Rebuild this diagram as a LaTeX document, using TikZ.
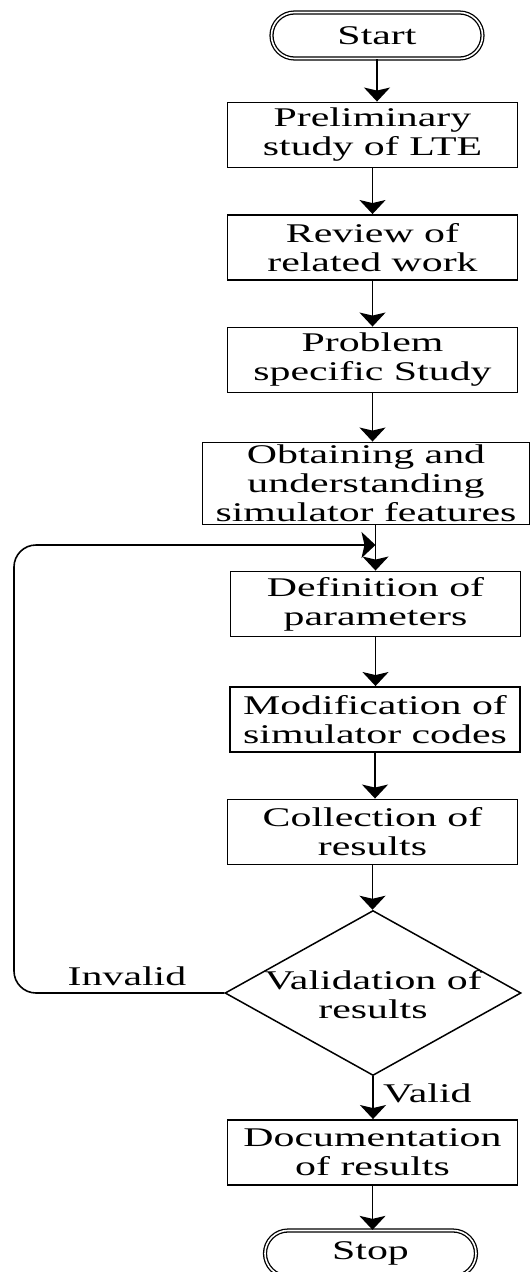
\documentclass[tikz,border=0pt]{standalone}
\usepackage{fontspec}
\setmainfont{Liberation Serif}[FakeStretch=1.55]
\usetikzlibrary{shapes.misc,shapes.geometric,arrows.meta}
\tikzset{
  base/.style={font=\fontsize{27}{29}\selectfont, align=center, inner sep=0pt},
  proc/.style={base, draw, line width=1.9pt, rectangle, minimum width=290pt, minimum height=65pt},
  term/.style={base, rounded rectangle, draw, double, line width=1.3pt, double distance=1.6pt,
               minimum width=211pt, minimum height=46pt},
  decision/.style={diamond, draw, line width=1.5pt, inner sep=0pt, minimum width=296pt, minimum height=165pt},
  flow/.style={line width=1.8pt, -{Stealth[length=14pt,width=26pt,inset=3pt]}},
  loop/.style={line width=1.6pt, -{Stealth[length=14pt,width=26pt,inset=3pt]}, rounded corners=22pt},
  lbl/.style={base}
}
\begin{document}
\begin{tikzpicture}[x=1pt,y=-1pt]
\useasboundingbox (0,0) rectangle (532,1272);
\clip (0,0) rectangle (532,1272);

% process chain
\node[term] (start) at (377,35.5) {Start};
\node[proc] (b1) at (372.5,135) {Preliminary\\study of LTE};
\node[proc] (b2) at (372.5,247.5) {Review of\\related work};
\node[proc] (b3) at (372.5,360) {Problem\\specific Study};
\node[proc, minimum width=327pt, minimum height=82pt] (b4) at (366,483.5) {Obtaining and\\understanding\\simulator features};
\node[proc] (b5) at (375.5,604) {Definition of\\parameters};
\node[proc] (b6) at (375,719.5) {Modification of\\simulator codes};
\node[proc] (b7) at (372.5,832) {Collection of\\results};
\node[decision] (dec) at (373,993) {};
\node[base] (dect) at (373,995) {Validation of\\results};
\node[proc] (b8) at (372.5,1152.5) {Documentation\\of results};
\node[term] (stop) at (370.5,1253.5) {Stop};

% connectors
\draw[flow] (start.south) -- (start.south |- b1.north);
\draw[flow] (b1.south) -- (b1.south |- b2.north);
\draw[flow] (b2.south) -- (b2.south |- b3.north);
\draw[flow] (b3.south) -- (b3.south |- b4.north);
\draw[flow] (b5.north |- b4.south) -- (b5.north);
\draw[flow] (b5.south) -- (b5.south |- b6.north);
\draw[flow] (b6.south) -- (b6.south |- b7.north);
\draw[flow] (b7.south) -- (b7.south |- dec.north);
\draw[flow] (dec.south) -- (dec.south |- b8.north);
\draw[flow] (b8.south) -- (b8.south |- stop.north);

% feedback loop for invalid results
\coordinate (j) at (375.5,545);
\coordinate (lc) at (14,545);
\draw[loop] (dec.west) -- (dec.west -| lc) -- (lc) -- (j);

% branch labels
\node[lbl] (inv) at (127,976) {Invalid};
\node[lbl, anchor=west] (val) at (383,1093) {Valid};
\end{tikzpicture}
\end{document}
